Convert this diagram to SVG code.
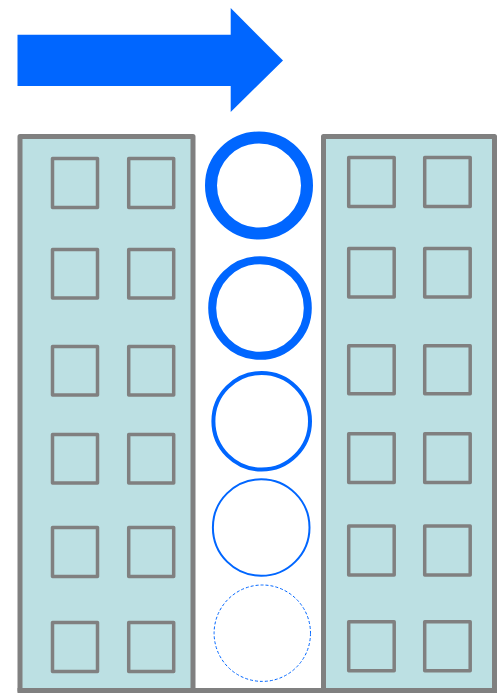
<svg xmlns="http://www.w3.org/2000/svg" width="501" height="693" viewBox="0 0 501 693">
<style>
.bld{fill:#bce0e3;stroke:#808080;stroke-width:5;stroke-linejoin:round}
.win{fill:none;stroke:#808080;stroke-width:3.5;stroke-linejoin:round}
.ring{fill:#ffffff;stroke:#0066ff}
</style>
<rect width="501" height="693" fill="#ffffff"/>
<g id="arrow">
<polygon points="17.5,34.7 230.7,34.7 230.7,8 283,60.5 230.7,112 230.7,86 17.5,86" fill="#0066ff"/>
</g>
<g id="building-left">
<rect class="bld" x="20" y="136.5" width="173" height="554"/>
<rect class="win" x="52.5" y="158.5" width="45" height="49"/>
<rect class="win" x="128.7" y="158.5" width="45" height="49"/>
<rect class="win" x="52.5" y="249.5" width="45" height="48.5"/>
<rect class="win" x="128.7" y="249.5" width="45" height="48.5"/>
<rect class="win" x="52.5" y="346.5" width="45" height="48.5"/>
<rect class="win" x="128.7" y="346.5" width="45" height="48.5"/>
<rect class="win" x="52.5" y="434.5" width="45" height="48.5"/>
<rect class="win" x="128.7" y="434.5" width="45" height="48.5"/>
<rect class="win" x="52.5" y="527.5" width="45" height="49"/>
<rect class="win" x="128.7" y="527.5" width="45" height="49"/>
<rect class="win" x="52.5" y="622.5" width="45" height="49"/>
<rect class="win" x="128.7" y="622.5" width="45" height="49"/>
</g>
<g id="building-right">
<rect class="bld" x="323.5" y="136.5" width="171" height="554"/>
<rect class="win" x="348.7" y="157.5" width="45.5" height="49"/>
<rect class="win" x="424.7" y="157.5" width="45.5" height="49"/>
<rect class="win" x="348.7" y="248.5" width="45.5" height="48.5"/>
<rect class="win" x="424.7" y="248.5" width="45.5" height="48.5"/>
<rect class="win" x="348.7" y="345.7" width="45.5" height="48"/>
<rect class="win" x="424.7" y="345.7" width="45.5" height="48"/>
<rect class="win" x="348.7" y="433.7" width="45.5" height="48.7"/>
<rect class="win" x="424.7" y="433.7" width="45.5" height="48.7"/>
<rect class="win" x="348.7" y="526" width="45.5" height="49"/>
<rect class="win" x="424.7" y="526" width="45.5" height="49"/>
<rect class="win" x="348.7" y="621.7" width="45.5" height="49"/>
<rect class="win" x="424.7" y="621.7" width="45.5" height="49"/>
</g>
<g id="ground">
<line x1="17.5" y1="690.5" x2="497" y2="690.5" stroke="#808080" stroke-width="5"/>
</g>
<g id="rings">
<circle class="ring" cx="259" cy="185.5" r="48" stroke-width="12"/>
<circle class="ring" cx="260" cy="308" r="47.8" stroke-width="8"/>
<circle class="ring" cx="261.7" cy="421.2" r="48.3" stroke-width="4"/>
<circle class="ring" cx="261.2" cy="527.5" r="48.3" stroke-width="2"/>
<circle class="ring" cx="262.3" cy="633.2" r="48.2" stroke-width="1" stroke-dasharray="3,2"/>
</g>
</svg>
